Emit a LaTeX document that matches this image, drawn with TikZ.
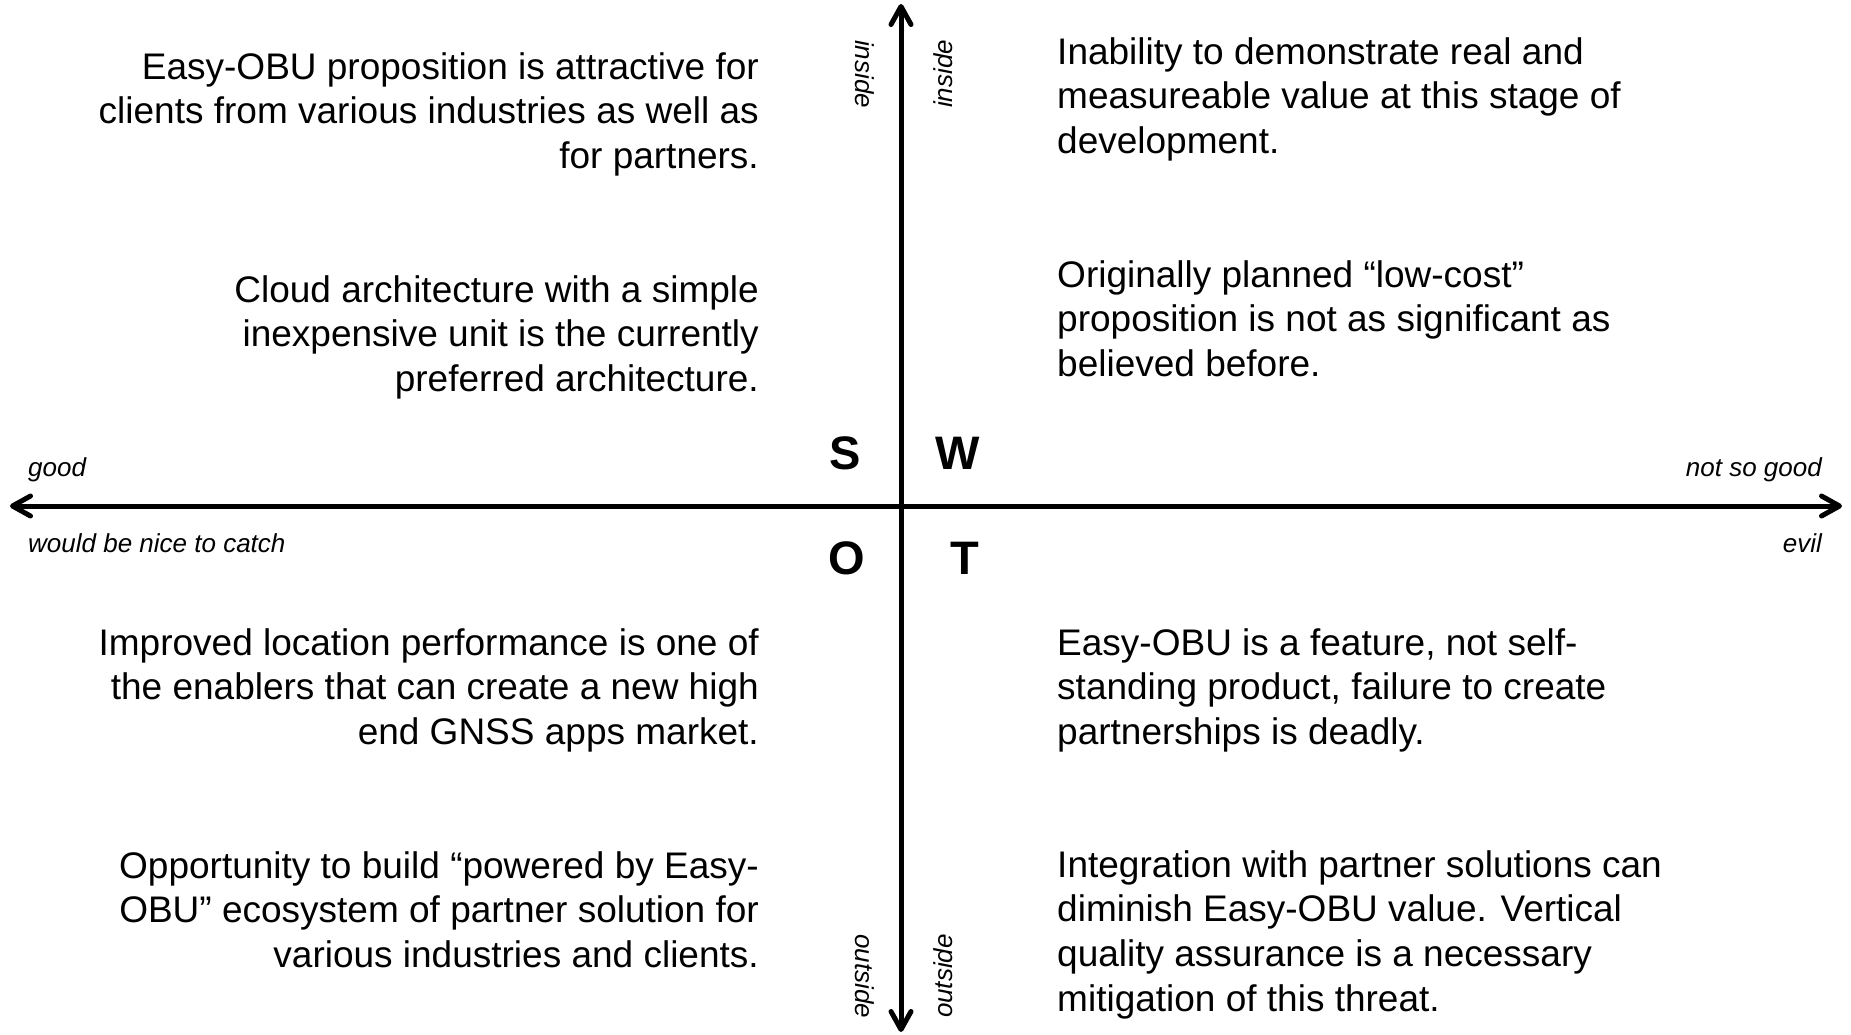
\documentclass[tikz,border=0pt]{standalone}
\usepackage{fontspec}
\setmainfont{Liberation Sans}
\usetikzlibrary{arrows.meta}
\newcommand\firststrut{\rule{0pt}{30pt}}
\begin{document}
\begin{tikzpicture}[x=1pt,y=-1pt,
  axisline/.style={line width=5pt,{Straight Barb[length=18pt,width=20pt,line width=5pt,round]}-{Straight Barb[length=18pt,width=20pt,line width=5pt,round]}},
  lefttext/.style={anchor=north east,inner sep=0pt,align=right,font=\fontsize{37}{44.7}\selectfont},
  righttext/.style={anchor=north west,inner sep=0pt,align=left,font=\fontsize{37}{44.7}\selectfont},
  axislabel/.style={inner sep=0pt,font=\fontsize{26}{31}\selectfont\itshape},
  quadletter/.style={anchor=base,inner sep=0pt,font=\fontsize{47}{56}\selectfont\bfseries}]
\useasboundingbox (0,0) rectangle (1851,1034);
% axes
\coordinate (top) at (901,4);
\coordinate (bottom) at (901,1032);
\coordinate (left) at (10,506);
\coordinate (right) at (1842,506);
\draw[axisline] (bottom) -- (top);
\draw[axisline] (left) -- (right);
% quadrant letters
\node[quadletter] (S) at (845,469) {S};
\node[quadletter] (W) at (958,469) {W};
\node[quadletter] (O) at (847,574) {O};
\node[quadletter] (T) at (965,574) {T};
% axis labels
\node[axislabel,anchor=base west] (good) at (28,476) {good};
\node[axislabel,anchor=base west] (nice) at (28,552) {would be nice to catch};
\node[axislabel,anchor=base east] (notsogood) at (1822,476) {not so good};
\node[axislabel,anchor=base east] (evil) at (1822,552) {evil};
\node[axislabel,rotate=-90] (insideL) at (864.5,74) {inside};
\node[axislabel,rotate=90] (insideR) at (943.5,74) {inside};
\node[axislabel,rotate=-90] (outsideL) at (864.5,976) {outside};
\node[axislabel,rotate=90] (outsideR) at (943.5,976) {outside};
% strengths
\node[lefttext] (s1) at (759,49) {\firststrut Easy-OBU proposition is attractive for\\clients from various industries as well as\\for partners.};
\node[lefttext] (s2) at (759,272) {\firststrut Cloud architecture with a simple\\inexpensive unit is the currently\\preferred architecture.};
% opportunities
\node[lefttext] (o1) at (759,625) {\firststrut Improved location performance is one of\\the enablers that can create a new high\\end GNSS apps market.};
\node[lefttext] (o2) at (759,848) {\firststrut Opportunity to build “powered by Easy-\\OBU” ecosystem of partner solution for\\various industries and clients.};
% weaknesses
\node[righttext] (w1) at (1057,34) {\firststrut Inability to demonstrate real and\\measureable value at this stage of\\development.};
\node[righttext] (w2) at (1057,257) {\firststrut Originally planned “low-cost”\\proposition is not as significant as\\believed before.};
% threats
\node[righttext] (t1) at (1057,625) {\firststrut Easy-OBU is a feature, not self-\\standing product, failure to create\\partnerships is deadly.};
\node[righttext] (t2) at (1057,847) {\firststrut Integration with partner solutions can\\diminish Easy-OBU value. Vertical\\quality assurance is a necessary\\mitigation of this threat.};
\end{tikzpicture}
\end{document}
